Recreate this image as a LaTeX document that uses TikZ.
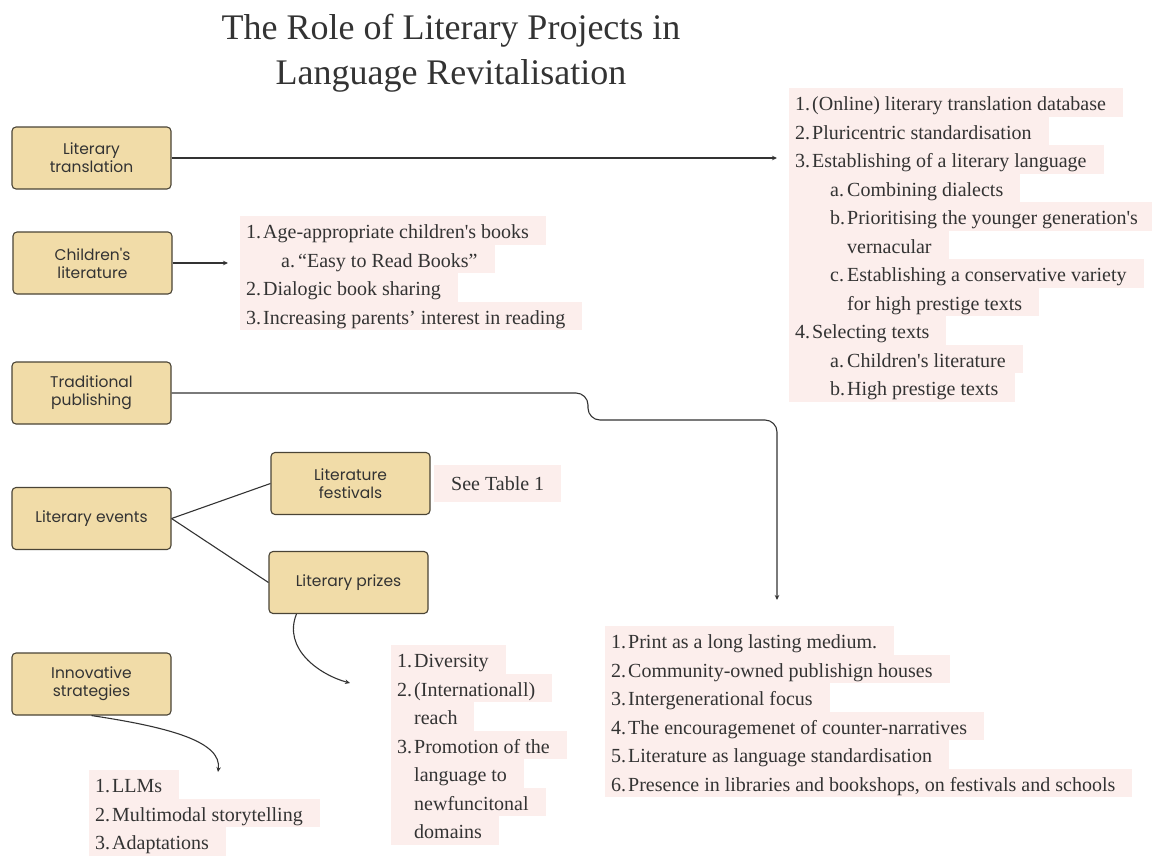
\documentclass[tikz,border=0pt]{standalone}
\usepackage{fontspec}
\setmainfont{Liberation Serif}
\newfontfamily\boxfont{Poppins}
\usetikzlibrary{arrows.meta,calc}

\definecolor{boxtan}{HTML}{F1DCA8}
\definecolor{boxedge}{HTML}{4A4436}
\definecolor{hlpink}{HTML}{FCEEEC}
\definecolor{inkgray}{HTML}{333333}

\setlength{\fboxsep}{0pt}
\newcommand{\hlline}[3]{\colorbox{hlpink}{\rule[-6pt]{0pt}{28.5pt}\hspace{#1}\makebox[17pt][l]{#2}#3\hspace{17pt}}}

\tikzset{
	topic/.style={draw=boxedge, fill=boxtan, line width=1.1pt, rounded corners=4pt, minimum width=159pt, minimum height=62pt, align=center, text=inkgray, font=\boxfont\fontsize{15.5}{18}\selectfont},
	notes/.style={anchor=north west, inner sep=0pt, align=left, text=inkgray, font=\fontsize{20}{28.5}\selectfont},
	link/.style={draw=inkgray, line width=1.1pt, -{Stealth[length=5pt,width=4.5pt]}},
	branch/.style={draw=inkgray, line width=1.1pt},
}

\begin{document}
\begin{tikzpicture}[x=1pt, y=-1pt]
			%%%%% START %%%%%
			\useasboundingbox (0,0) rectangle (1152,855);
			
			\node (title) at (451,53) [align=center, text=inkgray, font=\fontsize{36}{45}\selectfont] {The Role of Literary Projects in\\Language Revitalisation};
			
			\node[topic] (trans) at (91.5,158) {Literary\\translation};
			\node[topic] (child) at (92.5,263) {Children\textquotesingle s\\literature};
			\node[topic] (trad) at (91.5,393) {Traditional\\publishing};
			\node[topic] (events) at (91.5,518.5) {Literary events};
			\node[topic] (fest) at (350.5,483.5) {Literature\\festivals};
			\node[topic] (prizes) at (348.5,582.5) {Literary prizes};
			\node[topic] (innov) at (91.5,684) {Innovative\\strategies};
			
			\node[notes] (transList) at (789,88) {%
				\hlline{6pt}{1.}{(Online) literary translation database}\\
				\hlline{6pt}{2.}{Pluricentric standardisation}\\
				\hlline{6pt}{3.}{Establishing of a literary language}\\
				\hlline{41pt}{a.}{Combining dialects}\\
				\hlline{41pt}{b.}{Prioritising the younger generation\textquotesingle s}\\
				\hlline{41pt}{}{vernacular}\\
				\hlline{41pt}{c.}{Establishing a conservative variety}\\
				\hlline{41pt}{}{for high prestige texts}\\
				\hlline{6pt}{4.}{Selecting texts}\\
				\hlline{41pt}{a.}{Children\textquotesingle s literature}\\
				\hlline{41pt}{b.}{High prestige texts}};
			
			\node[notes] (childList) at (240,216) {%
				\hlline{6pt}{1.}{Age-appropriate children\textquotesingle s books}\\
				\hlline{41pt}{a.}{“Easy to Read Books”}\\
				\hlline{6pt}{2.}{Dialogic book sharing}\\
				\hlline{6pt}{3.}{Increasing parents’ interest in reading}};
			
			\node[anchor=west, fill=hlpink, inner xsep=17pt, minimum height=37pt, text=inkgray, font=\fontsize{20}{24}\selectfont] (festNote) at (434,483.5) {See Table 1};
			
			\node[notes] (pubList) at (605,626) {%
				\hlline{6pt}{1.}{Print as a long lasting medium.}\\
				\hlline{6pt}{2.}{Community-owned publishign houses}\\
				\hlline{6pt}{3.}{Intergenerational focus}\\
				\hlline{6pt}{4.}{The encouragemenet of counter-narratives}\\
				\hlline{6pt}{5.}{Literature as language standardisation}\\
				\hlline{6pt}{6.}{Presence in libraries and bookshops, on festivals and schools}};
			
			\node[notes] (prizesList) at (391,645) {%
				\hlline{6pt}{1.}{Diversity}\\
				\hlline{6pt}{2.}{(Internationall)}\\
				\hlline{6pt}{}{reach}\\
				\hlline{6pt}{3.}{Promotion of the}\\
				\hlline{6pt}{}{language to}\\
				\hlline{6pt}{}{newfuncitonal}\\
				\hlline{6pt}{}{domains}};
			
			\node[notes] (innovList) at (89,770) {%
				\hlline{6pt}{1.}{LLMs}\\
				\hlline{6pt}{2.}{Multimodal storytelling}\\
				\hlline{6pt}{3.}{Adaptations}};
			
			% arrow ends
			\coordinate (transTip) at (777,158);
			\coordinate (childTip) at (228,263);
			\coordinate (pubTip) at (777,600);
			\coordinate (prizesTip) at (350,683);
			\coordinate (innovTip) at (218,772);
			
			\draw[link] (trans.east) -- (transTip);
			\draw[link] (child.east) -- (childTip);
			\draw[link, rounded corners=12pt] (trad.east) -| (588,420) -| (pubTip);
			
			\draw[branch] (events.east) -- (fest.west);
			\draw[branch] (events.east) -- (prizes.west);
			
			\draw[link] ([xshift=28pt]prizes.south west) .. controls +(-14,35) and +(-30,-8) .. (prizesTip);
			\draw[link] (innov.south) .. controls +(80,12) and +(4,-30) .. (innovTip);
			
			%%%%% END %%%%%
\end{tikzpicture}
\end{document}
